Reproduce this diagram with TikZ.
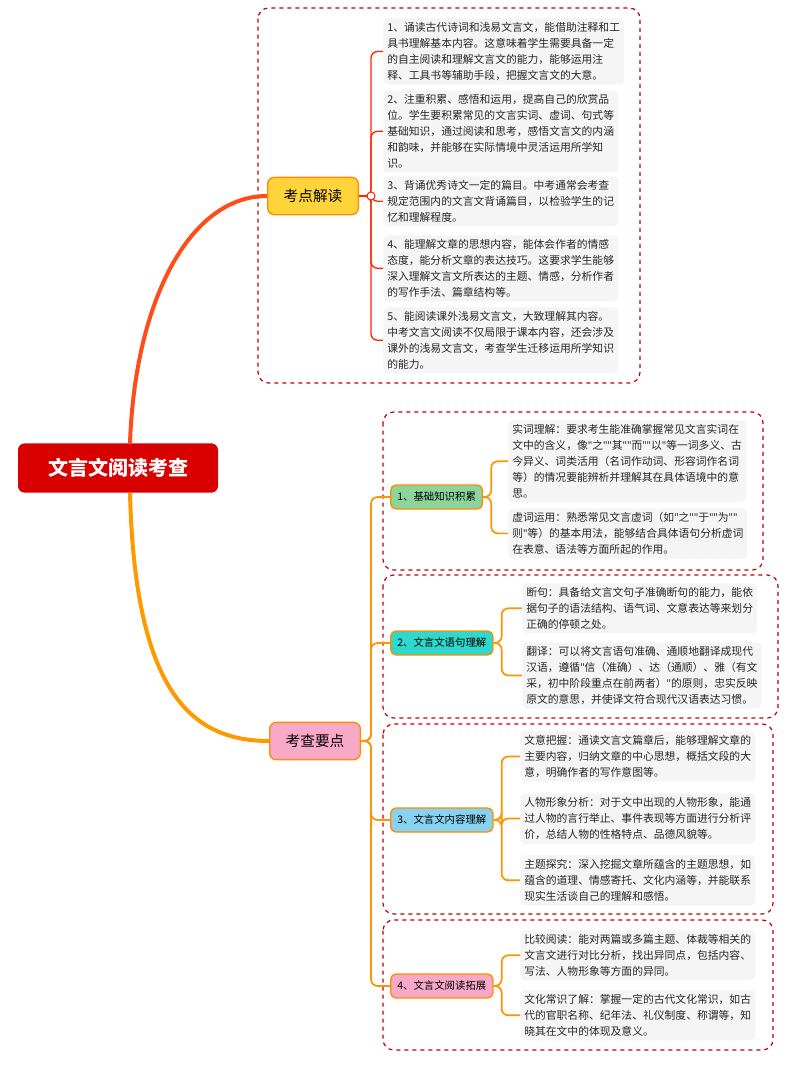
\documentclass[tikz,border=0pt]{standalone}
\usepackage{fontspec}
\setmainfont{Noto Sans CJK SC}
\newfontfamily\latf{Noto Sans}
\newcommand\qq{{\latf"}}
\usetikzlibrary{calc}
\definecolor{gfill}{HTML}{8BD49B}
\definecolor{cfill}{HTML}{2ED8CC}
\definecolor{bfill}{HTML}{86D2F0}
\definecolor{pfill}{HTML}{F8A9C8}
\definecolor{yfill}{HTML}{FFD43B}
\begin{document}
\begin{tikzpicture}[x=0.75pt,y=-0.75pt,
  leaf/.style={anchor=north west,fill=black!4,rounded corners=3pt,align=left,inner sep=3pt,font=\fontsize{8.1}{12}\selectfont,text=black!85},
  dbox/.style={draw=red!75!black,dashed,line width=0.9pt,rounded corners=8pt},
  sub/.style={draw=orange!90!yellow,line width=1pt,rounded corners=4pt,font=\fontsize{7.8}{10}\selectfont,minimum height=18pt,inner xsep=5pt},
  mid/.style={draw=orange!90!yellow,line width=1pt,rounded corners=5pt,font=\fontsize{11}{13}\selectfont,minimum height=28pt,minimum width=68pt},
  rline/.style={draw=red!70!orange,line width=1pt,rounded corners=5pt},
  oline/.style={draw=orange!85!yellow,line width=1.3pt,rounded corners=5pt}]
\useasboundingbox (0,0) rectangle (794,1090);
% root
\node[fill=red!85!black,rounded corners=5pt,minimum width=150pt,minimum height=37pt,text=white,font=\fontsize{15}{17}\bfseries] (root) at (118,468) {文言文阅读考查};
% top group
\draw[dbox] (258,8) rectangle (640,383);
\node[mid,fill=yfill] (kd) at (313,196) {考点解读};
\node[leaf] (a1) at (383,18) {1、诵读古代诗词和浅易文言文，能借助注释和工\\具书理解基本内容。这意味着学生需要具备一定\\的自主阅读和理解文言文的能力，能够运用注\\释、工具书等辅助手段，把握文言文的大意。};
\node[leaf] (a2) at (383,90) {2、注重积累、感悟和运用，提高自己的欣赏品\\位。学生要积累常见的文言实词、虚词、句式等\\基础知识，通过阅读和思考，感悟文言文的内涵\\和韵味，并能够在实际情境中灵活运用所学知\\识。};
\node[leaf] (a3) at (383,176) {3、背诵优秀诗文一定的篇目。中考通常会考查\\规定范围内的文言文背诵篇目，以检验学生的记\\忆和理解程度。};
\node[leaf] (a4) at (383,235) {4、能理解文章的思想内容，能体会作者的情感\\态度，能分析文章的表达技巧。这要求学生能够\\深入理解文言文所表达的主题、情感，分析作者\\的写作手法、篇章结构等。};
\node[leaf] (a5) at (383,307) {5、能阅读课外浅易文言文，大致理解其内容。\\中考文言文阅读不仅局限于课本内容，还会涉及\\课外的浅易文言文，考查学生迁移运用所学知识\\的能力。};
\foreach \n in {a1,a2,a3,a4,a5} \draw[rline] (kd.east) -- ++(12,0) |- (\n.west);
\draw[red!70!orange,fill=white,line width=0.8pt] ($(kd.east)+(12,0)$) circle (3pt);
% root branches
\draw[line width=3pt,red!55!orange!90] (root.north) ++(12,0) .. controls (135,300) and (190,196) .. (kd.west);
\node[mid,fill=pfill] (kc) at (315,741) {考查要点};
\draw[line width=3pt,orange!80!yellow] (root.south) ++(12,0) .. controls (135,690) and (190,741) .. (kc.west);
% sub groups
\draw[dbox] (383,412) rectangle (763,570);
\draw[dbox] (383,575) rectangle (778,718);
\draw[dbox] (383,724) rectangle (773,914);
\draw[dbox] (383,920) rectangle (773,1050);
\node[sub,fill=gfill,anchor=west] (s1) at (390,497) {1、基础知识积累};
\node[sub,fill=cfill,anchor=west] (s2) at (390,643) {2、文言文语句理解};
\node[sub,fill=bfill,anchor=west] (s3) at (390,820) {3、文言文内容理解};
\node[sub,fill=pfill,anchor=west] (s4) at (390,986) {4、文言文阅读拓展};
\foreach \n in {s1,s2,s3,s4} \draw[oline] (kc.east) -- ++(10,0) |- (\n.west);
\node[leaf] (b1) at (508,420) {实词理解：要求考生能准确掌握常见文言实词在\\文中的含义，像\qq 之\qq\qq 其\qq\qq 而\qq\qq 以\qq 等一词多义、古\\今异义、词类活用（名词作动词、形容词作名词\\等）的情况要能辨析并理解其在具体语境中的意\\思。};
\node[leaf] (b2) at (508,508) {虚词运用：熟悉常见文言虚词（如\qq 之\qq\qq 于\qq\qq 为\qq\qq\\则\qq 等）的基本用法，能够结合具体语句分析虚词\\在表意、语法等方面所起的作用。};
\node[leaf] (c1) at (522,583) {断句：具备给文言文句子准确断句的能力，能依\\据句子的语法结构、语气词、文意表达等来划分\\正确的停顿之处。};
\node[leaf] (c2) at (522,642) {翻译：可以将文言语句准确、通顺地翻译成现代\\汉语，遵循\qq 信（准确）、达（通顺）、雅（有文\\采，初中阶段重点在前两者）\qq 的原则，忠实反映\\原文的意思，并使译文符合现代汉语表达习惯。};
\node[leaf] (d1) at (520,731) {文意把握：通读文言文篇章后，能够理解文章的\\主要内容，归纳文章的中心思想，概括文段的大\\意，明确作者的写作意图等。};
\node[leaf] (d2) at (520,793) {人物形象分析：对于文中出现的人物形象，能通\\过人物的言行举止、事件表现等方面进行分析评\\价，总结人物的性格特点、品德风貌等。};
\node[leaf] (d3) at (520,855) {主题探究：深入挖掘文章所蕴含的主题思想，如\\蕴含的道理、情感寄托、文化内涵等，并能联系\\现实生活谈自己的理解和感悟。};
\node[leaf] (e1) at (520,930) {比较阅读：能对两篇或多篇主题、体裁等相关的\\文言文进行对比分析，找出异同点，包括内容、\\写法、人物形象等方面的异同。};
\node[leaf] (e2) at (520,990) {文化常识了解：掌握一定的古代文化常识，如古\\代的官职名称、纪年法、礼仪制度、称谓等，知\\晓其在文中的体现及意义。};
\foreach \p/\c in {s1/b1,s1/b2,s2/c1,s2/c2,s3/d1,s3/d2,s3/d3,s4/e1,s4/e2}
  \draw[oline] (\p.east) -- ++(8,0) |- (\c.west);
\end{tikzpicture}
\end{document}
